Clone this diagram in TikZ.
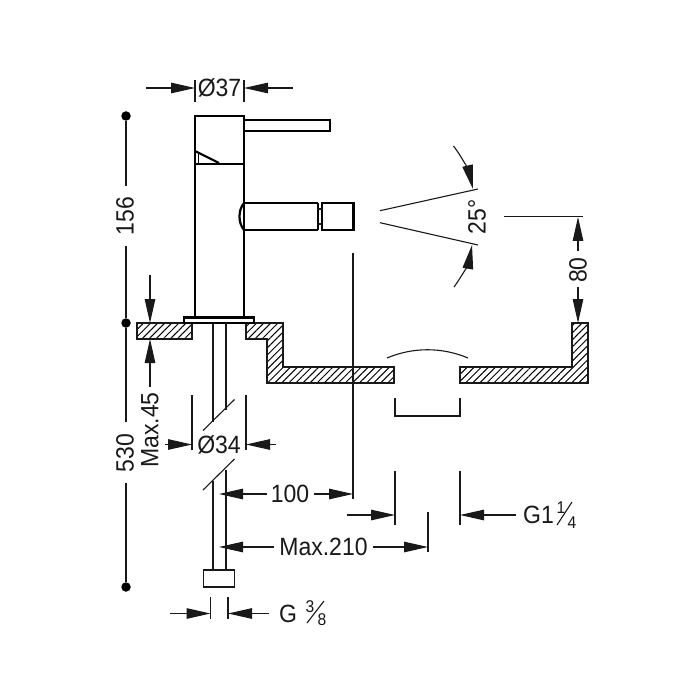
\documentclass[tikz,border=0pt]{standalone}
\usepackage{fontspec}
\setmainfont[FakeStretch=0.92]{Liberation Sans}
\usetikzlibrary{arrows.meta,patterns.meta}
\tikzset{
  heavy/.style={line width=2.2pt,draw=black},
  thin line/.style={line width=1.1pt,draw=black!90},
  dim/.style={line width=1.1pt,draw=black!90,-{Triangle[length=24pt,width=10.5pt]}},
  hatched/.style={line width=1.3pt,draw=black!90,pattern={Lines[angle=45,distance=5pt,line width=1pt]},pattern color=black},
  label/.style={inner sep=0pt,font=\fontsize{25}{25}\selectfont,text=black!90},
  sublabel/.style={inner sep=0pt,font=\fontsize{17}{17}\selectfont,text=black!90},
  dot/.style={circle,fill=black,inner sep=0pt,minimum size=9.5pt}
}
\begin{document}
\begin{tikzpicture}[x=1pt,y=-1pt]
\useasboundingbox (0,0) rectangle (700,700);
\fill[white] (0,0) rectangle (700,700);
% countertop
\draw[hatched] (137,323) -- (192,323) -- (192,339) -- (137,339) -- cycle;
\draw[hatched] (246,323) -- (283,323) -- (283,367) -- (394,367) -- (394,383) -- (267,383) -- (267,339) -- (246,339) -- cycle;
\draw[hatched] (460,367) -- (572,367) -- (572,323) -- (588,323) -- (588,383) -- (460,383) -- cycle;
% faucet
\draw[heavy] (195,116) rectangle (244,164);
\draw[heavy] (244,120) rectangle (330,131);
\draw[heavy] (195,164) -- (195,317);
\draw[heavy] (244,164) -- (244,317);
\draw[heavy] (195,151) -- (219,163);
\draw[line width=1.4pt] (198.5,163) -- (198.5,154);
\draw[heavy] (184,317.5) rectangle (254,323);
\draw[heavy] (244,203) -- (318,203) (244,230) -- (318,230) (318,203) -- (318,230);
\draw[heavy] (244,203) .. controls (238,210) and (238,223) .. (244,230);
\draw[heavy] (322,203) rectangle (353.5,230);
\draw[thin line] (318,209) -- (322,209) (318,224) -- (322,224);
% pipes
\draw[thin line] (213,323) -- (213,422) (226,323) -- (226,410);
\draw[thin line] (203,430.5) -- (234.5,399.5);
\draw[thin line] (203,490) -- (234.5,459);
\draw[thin line] (213,481) -- (213,570) (226,470) -- (226,570);
\draw[thin line] (203.5,570) rectangle (234.5,587);
% sink opening
\draw[thin line] (387,358) .. controls (413,347) and (442,347) .. (468,358);
\draw[thin line] (395,398) -- (395,416) -- (460,416) -- (460,398);
% extension lines
\draw[thin line] (195,80) -- (195,102) (244,80) -- (244,102);
\draw[thin line] (192,395) -- (192,450) (246,395) -- (246,450);
\draw[thin line] (353,253) -- (353,499);
\draw[thin line] (395,471) -- (395,525) (460,471) -- (460,525);
\draw[thin line] (428,512) -- (428,552);
\draw[thin line] (210.5,597) -- (210.5,619) (228,597) -- (228,619);
\draw[thin line] (504,216.5) -- (583,216.5);
\draw[thin line] (380,210.7) -- (478,189);
\draw[thin line] (380,222.7) -- (478,245);
% overall dimension lines
\node[dot] (d1) at (126,116) {};
\node[dot] (d2) at (126,323) {};
\node[dot] (d3) at (126,587) {};
\node[label,rotate=90] (t156) at (125,216) {156};
\node[label,rotate=90] (t530) at (125,453) {530};
\draw[thin line] (d1) -- (126,186);
\draw[thin line] (126,246) -- (d2);
\draw[thin line] (d2) -- (126,422);
\draw[thin line] (126,483) -- (d3);
% dimension arrows
\node[label] (t37) at (219.5,88) {Ø37};
\draw[dim] (146,88) -- (195,88);
\draw[dim] (293,88) -- (244,88);
\node[label,rotate=90] (t45) at (150,430) {Max.45};
\draw[dim] (150,275) -- (150,323);
\draw[dim] (150,387) -- (150,339);
\node[label] (t34) at (219,445) {Ø34};
\draw[dim] (165,444.5) -- (192,444.5);
\draw[dim] (276,444.5) -- (246,444.5);
\node[label] (t100) at (290,494) {100};
\draw[dim] (267,494) -- (219,494);
\draw[dim] (314,494) -- (353,494);
\draw[dim] (347,515) -- (395,515);
\node[label] (t210) at (323.5,547) {Max.210};
\draw[dim] (274,547) -- (219,547);
\draw[dim] (373,547) -- (428,547);
\draw[dim] (516,515) -- (460,515);
\node[label,anchor=west] (tg1) at (523,515) {G1};
\node[sublabel] (n1) at (561,508) {1};
\node[sublabel] (n4) at (572,523) {4};
\draw[thin line] (557,525) -- (572,502);
\draw[dim] (170,613.5) -- (210.5,613.5);
\draw[dim] (269,613.5) -- (228,613.5);
\node[label,anchor=west] (tg) at (279,614) {G};
\node[sublabel] (n3) at (310,607) {3};
\node[sublabel] (n8) at (322,620) {8};
\draw[thin line] (307,623) -- (324,601);
% angle
\node[label,rotate=90] (t25) at (477,217) {25°};
\draw[dim] (453.5,146) .. controls (462,157) and (469,172) .. (473,189);
\draw[dim] (454,287) .. controls (462,276) and (469,262) .. (472,245);
% 80
\node[label,rotate=90] (t80) at (578,270) {80};
\draw[dim] (578,251) -- (578,217);
\draw[dim] (578,287) -- (578,323);
\end{tikzpicture}
\end{document}
